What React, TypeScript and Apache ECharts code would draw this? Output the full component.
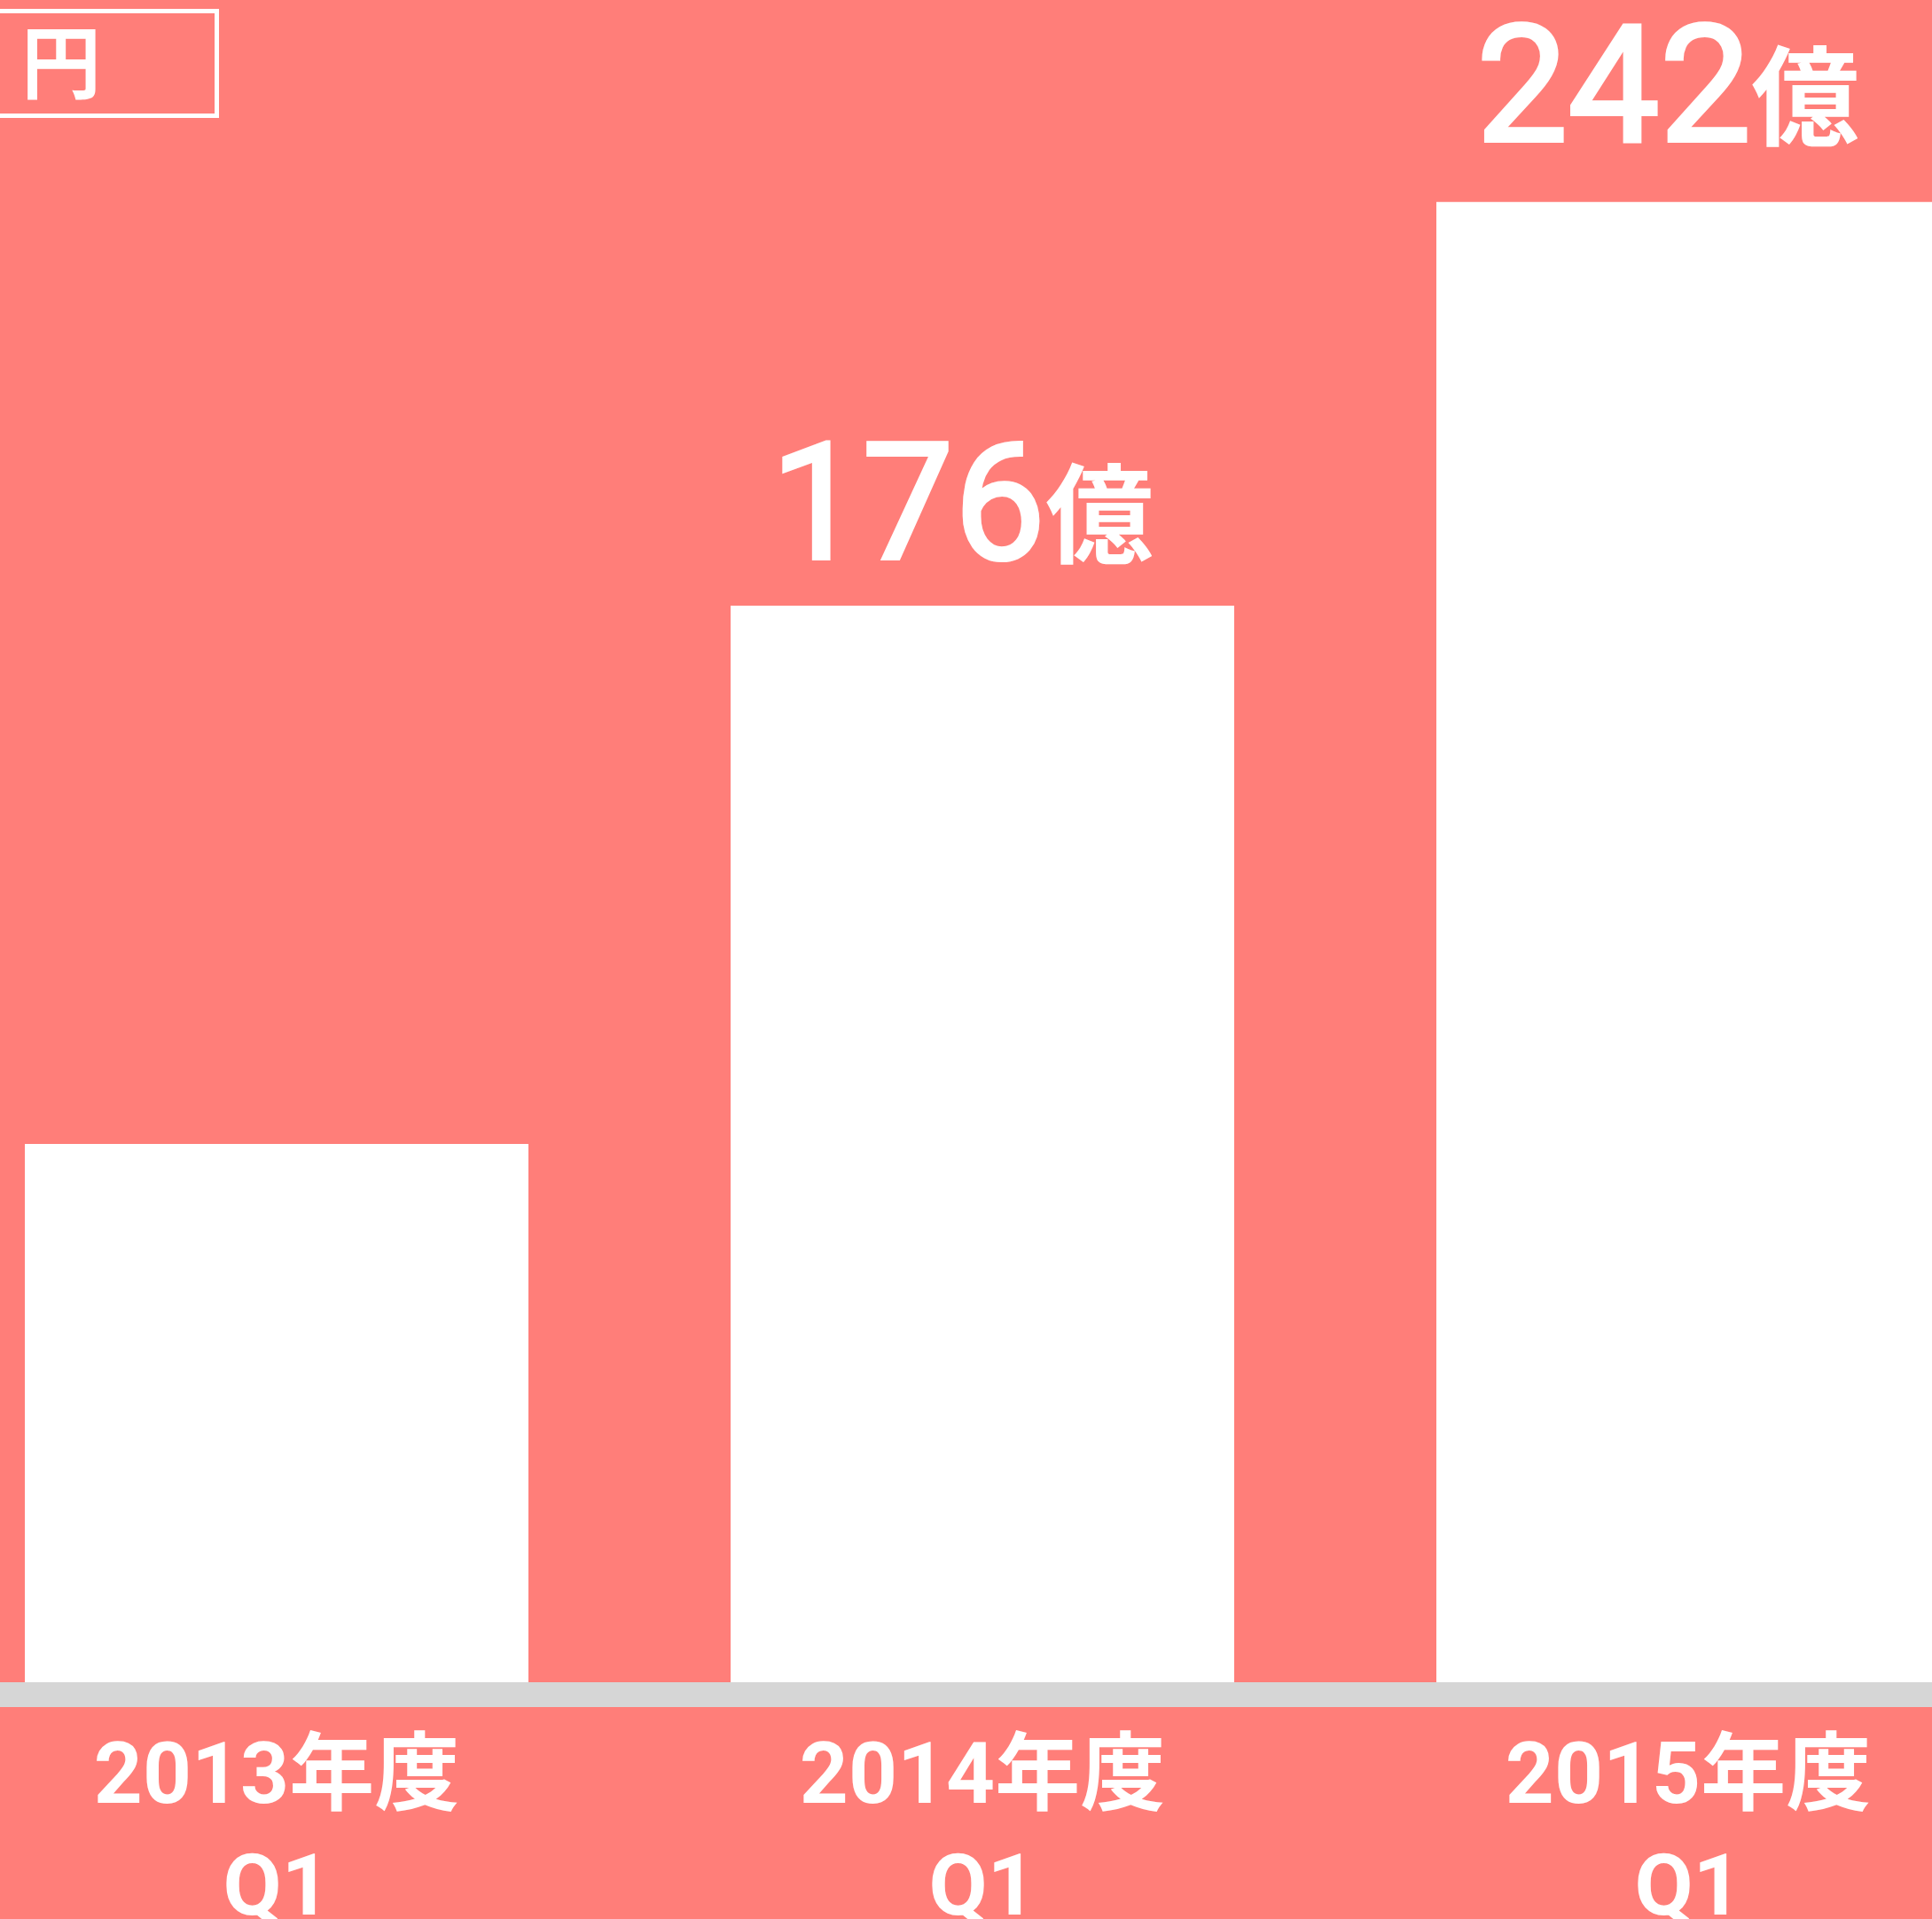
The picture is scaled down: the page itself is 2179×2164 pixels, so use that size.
import React, { useEffect, useRef } from "react";
import * as echarts from "echarts";

const categories = ["2013年度\nQ1", "2014年度\nQ1", "2015年度\nQ1"];
const values = [88, 176, 242];
const valueLabels = ["", "176", "242"];
const showValueLabel = [false, true, true];
const unitLabel = "億";
const legendLabel = "円";

const LATIN = "Roboto, 'Noto Sans CJK JP', sans-serif";
const CJK = "'Noto Sans CJK JP', sans-serif";

export default function App() {
  const ref = useRef<HTMLDivElement>(null);
  useEffect(() => {
    const chart = echarts.init(ref.current!, null, { renderer: "svg" });
    // label gap above each bar (style, per bar)
    const labelGap = [40, 24, 40];
    chart.setOption({
      animation: false,
      backgroundColor: "#FF7E79",
      grid: { left: -86, right: -123, top: 0, bottom: 267, containLabel: false, outerBoundsMode: "none" },
      xAxis: {
        type: "category",
        data: categories,
        offset: 14,
        axisLine: { show: true, onZero: false, lineStyle: { color: "#D6D6D6", width: 28 } },
        axisTick: { show: false },
        splitLine: { show: false },
        axisLabel: {
          color: "#ffffff",
          margin: -7,
          interval: 0,
          formatter: (v: string) => {
            const [a, b] = v.split("\n");
            return `{a|${a}}\n{b|${b}}`;
          },
          rich: {
            a: { fontSize: 96, lineHeight: 192, color: "#ffffff", fontFamily: LATIN, fontWeight: "bold" },
            b: { fontSize: 96, lineHeight: 60, color: "#ffffff", fontFamily: LATIN, fontWeight: "bold" },
          },
        },
      },
      yAxis: { type: "value", min: 0, max: 275, show: false, splitLine: { show: false } },
      series: [
        {
          type: "bar",
          data: values.map((v, i) => ({ value: v, label: { show: showValueLabel[i], distance: labelGap[i] } })),
          barWidth: 568,
          itemStyle: { color: "#ffffff" },
          label: {
            show: true,
            position: "top",
            distance: 40,
            offset: [-23, 0],
            formatter: (p: any) => `{n|${valueLabels[p.dataIndex]}}{u|${unitLabel}}`,
            rich: {
              n: {
                fontSize: 184,
                lineHeight: 184,
                color: "#ffffff",
                fontFamily: LATIN,
                fontWeight: 400,
                textBorderColor: "#ffffff",
                textBorderWidth: 4,
                verticalAlign: "bottom",
              },
              u: {
                fontSize: 122,
                lineHeight: 160,
                color: "#ffffff",
                fontFamily: CJK,
                fontWeight: "bold",
                verticalAlign: "bottom",
                padding: [0, 0, 26, 0],
              },
            },
          },
        },
      ],
      graphic: [
        {
          type: "rect",
          shape: { x: -10, y: 12.5, width: 254.5, height: 118 },
          style: { fill: "none", stroke: "#ffffff", lineWidth: 5 },
        },
        {
          type: "text",
          x: 69,
          y: 65,
          style: { text: legendLabel, fill: "#ffffff", fontSize: 90, fontFamily: CJK, fontWeight: "bold", align: "center", verticalAlign: "middle" },
        },
      ],
    });
    return () => chart.dispose();
  }, []);
  return <div ref={ref} style={{ position: "absolute", left: 0, top: 0, width: 2179, height: 2164 }} />;
}
